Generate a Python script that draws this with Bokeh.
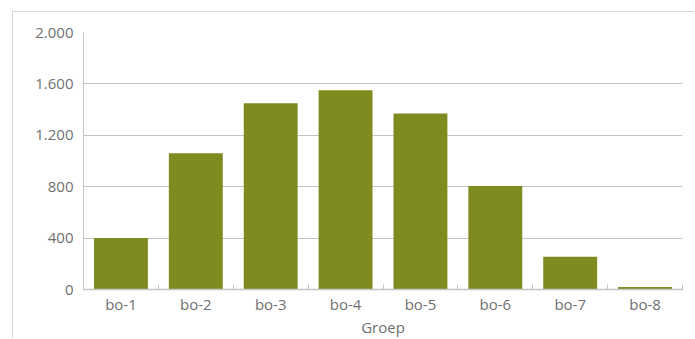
from bokeh.plotting import figure
from bokeh.models import FixedTicker, Range1d
from bokeh.embed import file_html
from bokeh.resources import INLINE

categories = ["bo-1", "bo-2", "bo-3", "bo-4", "bo-5", "bo-6", "bo-7", "bo-8"]
values = [400, 1060, 1450, 1550, 1370, 805, 255, 20]
y_ticks = [0, 400, 800, 1200, 1600, 2000]
y_labels = ["0", "400", "800", "1.200", "1.600", "2.000"]

centers = [i + 0.5 for i in range(len(categories))]
bounds = list(range(len(categories) + 1))

p = figure(width=682, height=327, output_backend="svg", toolbar_location=None,
           x_range=Range1d(0, len(categories)), y_range=Range1d(0, 2000),
           min_border_left=70, min_border_right=13, min_border_top=20, min_border_bottom=49)
p.margin = (11, 0, 0, 12)
p.styles = {"border-left": "1px solid #d4d4d4", "border-top": "1px solid #d4d4d4"}
p.outline_line_color = None
p.background_fill_color = "white"
p.border_fill_color = "white"

p.vbar(x=centers, top=values, width=0.72, color="#7f8a1f", line_color=None)

grey = "#c4c4c4"
txt = "#707070"
font = "Open Sans"

p.xaxis.ticker = FixedTicker(ticks=centers, minor_ticks=bounds)
p.xaxis.major_label_overrides = {c: lab for c, lab in zip(centers, categories)}
p.xaxis.major_tick_in = 0
p.xaxis.major_tick_out = 0
p.xaxis.minor_tick_in = 5
p.xaxis.minor_tick_out = 0
p.xaxis.minor_tick_line_color = grey
p.xaxis.axis_line_color = grey
p.xaxis.axis_line_width = 1.5
p.xaxis.major_label_text_font = font
p.xaxis.major_label_text_font_size = "15px"
p.xaxis.major_label_text_color = txt
p.xaxis.major_label_standoff = 4
p.xaxis.axis_label = "Groep"
p.xaxis.axis_label_text_font = font
p.xaxis.axis_label_text_font_size = "15px"
p.xaxis.axis_label_text_font_style = "normal"
p.xaxis.axis_label_text_color = txt
p.xaxis.axis_label_standoff = 0

p.yaxis.ticker = FixedTicker(ticks=y_ticks, minor_ticks=[])
p.yaxis.major_label_overrides = {t: lab for t, lab in zip(y_ticks, y_labels)}
p.yaxis.major_tick_in = 0
p.yaxis.major_tick_out = 0
p.yaxis.minor_tick_line_color = None
p.yaxis.axis_line_color = grey
p.yaxis.major_label_text_font = font
p.yaxis.major_label_text_font_size = "15px"
p.yaxis.major_label_text_color = txt
p.yaxis.major_label_standoff = 10

p.xgrid.grid_line_color = None
p.ygrid.ticker = FixedTicker(ticks=y_ticks)
p.ygrid.grid_line_color = grey
p.ygrid.grid_line_width = 1

open("out.html", "w").write(file_html(p, INLINE))
